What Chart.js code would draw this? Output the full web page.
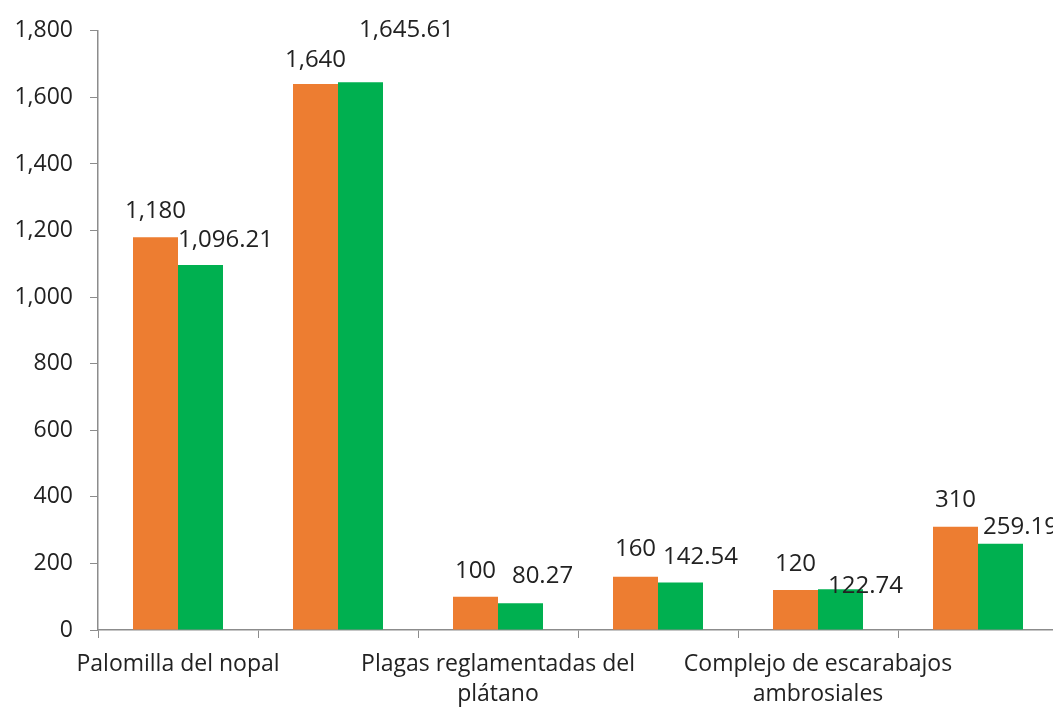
<!DOCTYPE html>
<html>
<head>
<meta charset="utf-8">
<script src="https://cdn.jsdelivr.net/npm/chart.js@4.4.0/dist/chart.umd.min.js"></script>
<style>
    html, body { margin: 0; padding: 0; background: #fff; overflow: hidden; }
    #wrap { width: 1058px; height: 708px; }
</style>
</head>
<body>
<div id="wrap"><canvas id="chart"></canvas></div>
<script>
// 数据
const categories = [
    'Palomilla del nopal', '',
    ['Plagas reglamentadas del', 'plátano'], '',
    ['Complejo de escarabajos', 'ambrosiales'], ''
];
const seriesOrange = [1180, 1640, 100, 160, 120, 310];
const seriesGreen = [1096.21, 1645.61, 80.27, 142.54, 122.74, 259.19];
const yTicks = [0, 200, 400, 600, 800, 1000, 1200, 1400, 1600, 1800];

const FONT = '"Open Sans", "Noto Sans", sans-serif';
const AXIS_COLOR = '#8c8c8c';
const TEXT_COLOR = '#222';

// 标签位置偏移 (像素, 相对柱顶中心)
const LABEL_OFFSETS = [
    { dx: [0, 0, 0, 0, 0, 0], dy: [-19, -17, -19, -21, -19, -20] },
    { dx: [25, 46, 22, 20, 25, 20], dy: [-18, -45, -20, -19, 4, -10] }
];

// 数值格式
function fmt(v) {
    return v.toLocaleString('en-US', { maximumFractionDigits: 2 });
}

// 柱顶标签
const barLabels = {
    id: 'barLabels',
    afterDatasetsDraw(chart) {
        const ctx = chart.ctx;
        ctx.save();
        ctx.font = '24px ' + FONT;
        ctx.fillStyle = TEXT_COLOR;
        ctx.textAlign = 'center';
        ctx.textBaseline = 'alphabetic';
        chart.data.datasets.forEach((ds, di) => {
            const meta = chart.getDatasetMeta(di);
            const off = LABEL_OFFSETS[di];
            meta.data.forEach((bar, i) => {
                ctx.fillText(fmt(ds.data[i]), bar.x + off.dx[i], bar.y + off.dy[i]);
            });
        });
        ctx.restore();
    }
};

new Chart(document.getElementById('chart'), {
    type: 'bar',
    data: {
        labels: categories,
        datasets: [
            { label: 'A', data: seriesOrange, backgroundColor: '#ED7D31' },
            { label: 'B', data: seriesGreen, backgroundColor: '#00B050' }
        ]
    },
    options: {
        responsive: true,
        maintainAspectRatio: false,
        animation: false,
        devicePixelRatio: 1,
        layout: { padding: { top: 30, left: 0, right: 0, bottom: 0 } },
        datasets: { bar: { categoryPercentage: 0.5625, barPercentage: 1 } },
        plugins: {
            legend: { display: false },
            tooltip: { enabled: false }
        },
        scales: {
            x: {
                offset: true,
                grid: {
                    offset: true,
                    drawOnChartArea: false,
                    drawTicks: true,
                    tickLength: 8,
                    color: AXIS_COLOR
                },
                border: { color: AXIS_COLOR, width: 1.5 },
                ticks: {
                    autoSkip: false,
                    maxRotation: 0,
                    padding: 12,
                    color: TEXT_COLOR,
                    font: { family: FONT, size: 23, lineHeight: 1.3 }
                },
                afterFit(scale) { scale.height = 78; }
            },
            y: {
                min: 0,
                max: 1800,
                afterBuildTicks(scale) { scale.ticks = yTicks.map(v => ({ value: v })); },
                grid: {
                    drawOnChartArea: false,
                    drawTicks: true,
                    tickLength: 8,
                    color: AXIS_COLOR
                },
                border: { color: AXIS_COLOR, width: 1.5 },
                ticks: {
                    padding: 17,
                    color: TEXT_COLOR,
                    font: { family: FONT, size: 23 },
                    callback: v => fmt(v)
                },
                afterFit(scale) { scale.width = 98; }
            }
        }
    },
    plugins: [barLabels]
});
</script>
</body>
</html>
